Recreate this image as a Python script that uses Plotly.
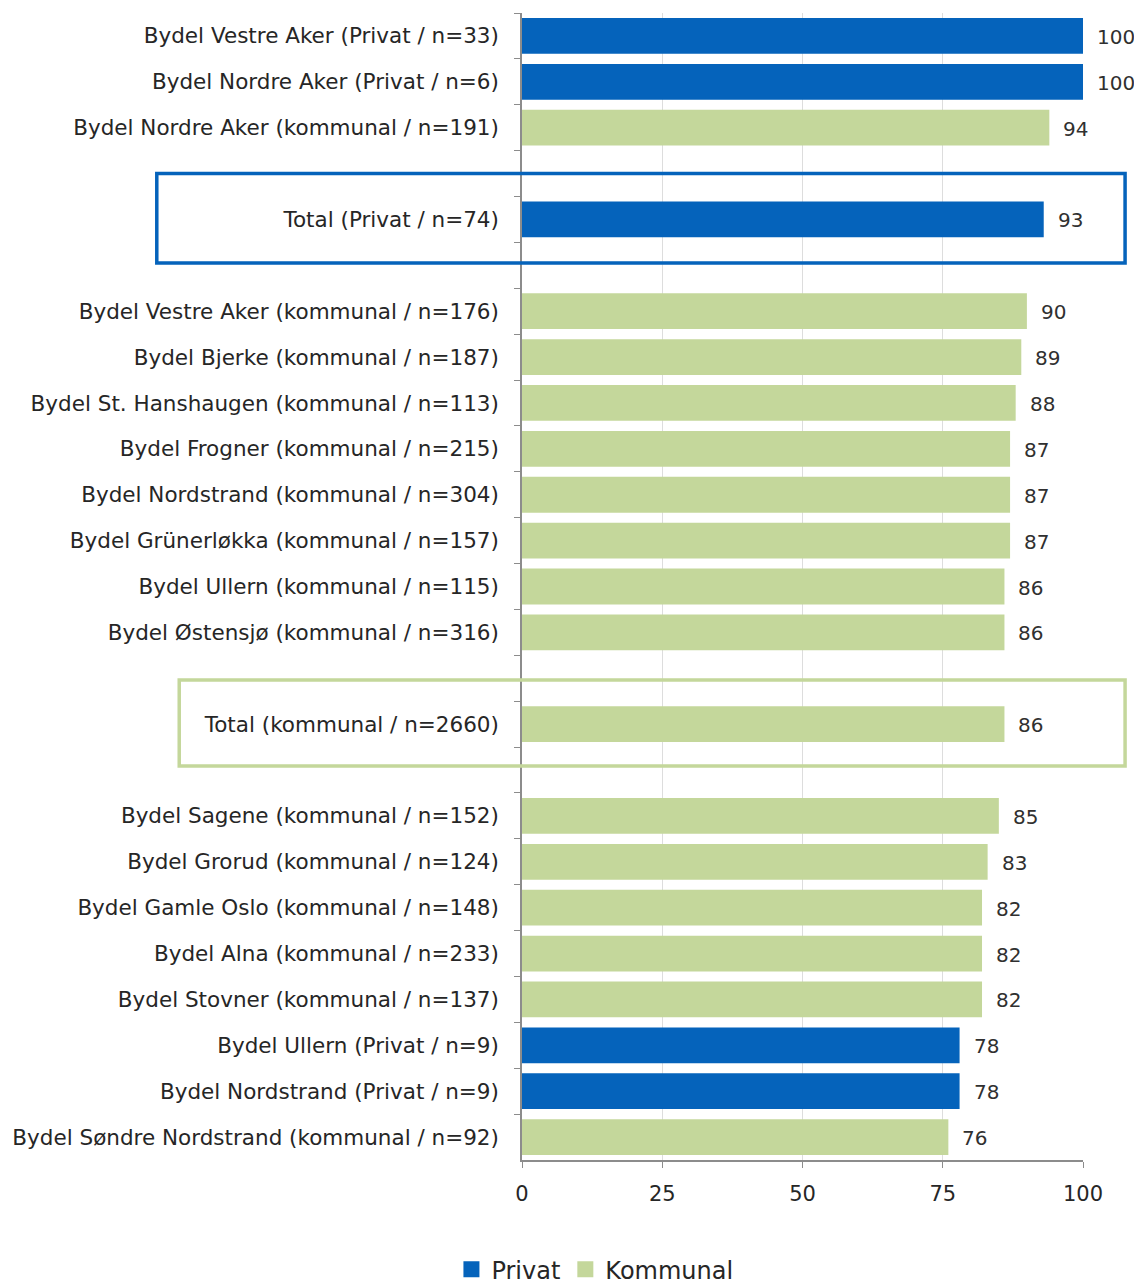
import plotly.graph_objects as go

# Data (top to bottom); None marks an empty separator slot
categories = [
    "Bydel Vestre Aker (Privat / n=33)",
    "Bydel Nordre Aker (Privat / n=6)",
    "Bydel Nordre Aker (kommunal / n=191)",
    None,
    "Total (Privat / n=74)",
    None,
    "Bydel Vestre Aker (kommunal / n=176)",
    "Bydel Bjerke (kommunal / n=187)",
    "Bydel St. Hanshaugen (kommunal / n=113)",
    "Bydel Frogner (kommunal / n=215)",
    "Bydel Nordstrand (kommunal / n=304)",
    "Bydel Grünerløkka (kommunal / n=157)",
    "Bydel Ullern (kommunal / n=115)",
    "Bydel Østensjø (kommunal / n=316)",
    None,
    "Total (kommunal / n=2660)",
    None,
    "Bydel Sagene (kommunal / n=152)",
    "Bydel Grorud (kommunal / n=124)",
    "Bydel Gamle Oslo (kommunal / n=148)",
    "Bydel Alna (kommunal / n=233)",
    "Bydel Stovner (kommunal / n=137)",
    "Bydel Ullern (Privat / n=9)",
    "Bydel Nordstrand (Privat / n=9)",
    "Bydel Søndre Nordstrand (kommunal / n=92)",
]
values = [100, 100, 94, None, 93, None, 90, 89, 88, 87, 87, 87, 86, 86, None,
          86, None, 85, 83, 82, 82, 82, 78, 78, 76]
sector = ["Privat", "Privat", "Kommunal", None, "Privat", None,
          "Kommunal", "Kommunal", "Kommunal", "Kommunal", "Kommunal", "Kommunal",
          "Kommunal", "Kommunal", None, "Kommunal", None,
          "Kommunal", "Kommunal", "Kommunal", "Kommunal", "Kommunal",
          "Privat", "Privat", "Kommunal"]
x_ticks = [0, 25, 50, 75, 100]

BLUE = "#0563BB"
GREEN = "#C4D79B"
colors = {"Privat": BLUE, "Kommunal": GREEN}

# Build category keys: separators get unique blank keys
keys = []
blank = 0
for c in categories:
    if c is None:
        blank += 1
        keys.append(" " * blank)
    else:
        keys.append(c)

FONT = "DejaVu Sans"

fig = go.Figure()
for s in ["Privat", "Kommunal"]:
    ys = [k for k, sec in zip(keys, sector) if sec == s]
    xs = [v for v, sec in zip(values, sector) if sec == s]
    fig.add_trace(go.Bar(
        x=xs, y=ys, orientation="h", name=s, showlegend=False,
        marker=dict(color=colors[s], line=dict(width=0)),
        hoverinfo="x+y",
    ))
# legend entries with larger square swatches
for s in ["Privat", "Kommunal"]:
    fig.add_trace(go.Scatter(
        x=[None], y=[None], mode="markers", name=s,
        marker=dict(symbol="square", size=16, color=colors[s]),
        hoverinfo="skip",
    ))

annotations = []
for k, v in zip(keys, values):
    if v is None:
        continue
    annotations.append(dict(
        x=v, y=k, xref="x", yref="y", text=str(v), showarrow=False,
        xanchor="left", xshift=12, yshift=-1,
        font=dict(family=FONT, size=20, color="#303030"),
    ))

shapes = [
    dict(type="rect", xref="paper", yref="y", x0=-0.651, x1=1.075, y0=3.0, y1=4.95,
         line=dict(color=BLUE, width=3.5), layer="above"),
    dict(type="rect", xref="paper", yref="y", x0=-0.611, x1=1.075, y0=14.04, y1=15.91,
         line=dict(color=GREEN, width=3.5), layer="above"),
]

fig.update_layout(
    width=1134, height=1271,
    margin=dict(l=514, r=59, t=5, b=119, autoexpand=False),
    paper_bgcolor="white", plot_bgcolor="white",
    barmode="overlay", bargap=0.22,
    font=dict(family=FONT, size=20, color="#262626"),
    showlegend=True,
    legend=dict(orientation="h", x=0.13, xanchor="center", y=-0.076, yanchor="top",
                font=dict(family=FONT, size=24, color="#262626"),
                traceorder="normal"),
    annotations=annotations,
    shapes=shapes,
)
fig.update_xaxes(
    range=[0, 100], tickvals=x_ticks, showgrid=True, gridcolor="#DDDDDD", gridwidth=1,
    showline=True, linecolor="#8C8C8C", linewidth=1.5,
    ticks="outside", ticklen=6, tickcolor="#8C8C8C",
    tickfont=dict(family=FONT, size=21, color="#262626"),
    ticklabelstandoff=8,
    zeroline=False, fixedrange=True,
)
fig.update_yaxes(
    type="category", categoryorder="array", categoryarray=keys,
    autorange="reversed", tickson="boundaries",
    showline=True, linecolor="#8C8C8C", linewidth=1.5,
    ticks="outside", ticklen=6, tickcolor="#8C8C8C",
    tickfont=dict(family=FONT, size=21.5, color="#262626"),
    ticklabelstandoff=17,
    showgrid=False, fixedrange=True,
)

fig.write_html("out.html")
